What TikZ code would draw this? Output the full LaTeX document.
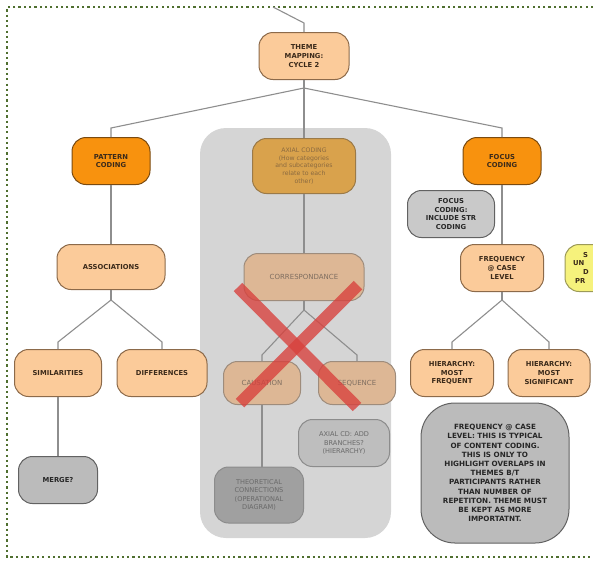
\documentclass[tikz,border=0pt]{standalone}
\usepackage{fontspec}
\setmainfont{DejaVu Sans}
\definecolor{peachfill}{HTML}{FBCB9A}
\definecolor{peachline}{HTML}{8C6A4A}
\definecolor{darktxt}{HTML}{3B2A1A}
\definecolor{orangefill}{HTML}{F8920E}
\definecolor{orangeline}{HTML}{7A4A10}
\definecolor{axialfill}{HTML}{D9A24C}
\definecolor{axialline}{HTML}{9B7A48}
\definecolor{axialtxt}{HTML}{8B6A40}
\definecolor{corrfill}{HTML}{DDB795}
\definecolor{corrline}{HTML}{9E8C7C}
\definecolor{corrtxt}{HTML}{7F6E60}
\definecolor{panelgray}{HTML}{D5D5D5}
\definecolor{greyfill}{HTML}{BBBBBB}
\definecolor{greyline}{HTML}{626262}
\definecolor{fadefill}{HTML}{B2B2B2}
\definecolor{fadeline}{HTML}{8C8C8C}
\definecolor{fadetxt}{HTML}{696969}
\definecolor{yellowfill}{HTML}{F6F27C}
\definecolor{yellowline}{HTML}{9C9A58}
\definecolor{linkgray}{HTML}{8E8E8E}
\definecolor{framegreen}{HTML}{4F6F2F}
\definecolor{crossred}{HTML}{D8403C}
\begin{document}
\begin{tikzpicture}[x=1pt,y=-1pt,
  box/.style={draw, rounded corners=14pt, line width=1pt, align=center,
    inner sep=1pt, font=\fontsize{6.8}{8.6}\selectfont\bfseries, text=darktxt},
  peach/.style={box, fill=peachfill, draw=peachline},
  orange/.style={box, fill=orangefill, draw=orangeline},
  grey/.style={box, fill=greyfill, draw=greyline, text=black!85},
  faded/.style={box, fill=fadefill, draw=fadeline, text=fadetxt,
    font=\fontsize{6.6}{8.6}\selectfont},
  inpanel/.style={box, fill=corrfill, draw=corrline, text=corrtxt,
    font=\fontsize{7}{8.6}\selectfont},
  link/.style={draw=linkgray, line width=1.1pt},
  frame/.style={draw=framegreen, line width=2.2pt, dash pattern=on 2.2pt off 3.1pt},
  crossbar/.style={draw=crossred, line width=12pt, opacity=0.78}]

\useasboundingbox (0,0) rectangle (593,560);
\clip (0,0) rectangle (593,560);

% dotted frame
\draw[frame] (593,7) -- (7,7) -- (7,557) -- (593,557);

% grey panel behind the axial coding branch
\fill[panelgray, rounded corners=26pt] (200,128) rectangle (391,538);

% nodes
\node[peach, minimum width=90pt, minimum height=47pt] (theme) at (304,56)
  {THEME\\MAPPING:\\CYCLE 2};

\node[orange, minimum width=78pt, minimum height=47pt] (pattern) at (111,161)
  {PATTERN\\CODING};
\node[box, fill=axialfill, draw=axialline, text=axialtxt,
  font=\fontsize{6.2}{7.7}\selectfont, minimum width=103pt, minimum height=55pt]
  (axial) at (304,166)
  {AXIAL CODING\\(How categories\\and subcategories\\relate to each\\other)};
\node[orange, minimum width=78pt, minimum height=47pt] (focus) at (502,161)
  {FOCUS\\CODING};
\node[grey, fill=greyfill!80!white, minimum width=87pt, minimum height=47pt]
  (focusnote) at (451,214) {FOCUS\\CODING:\\INCLUDE STR\\CODING};

\node[peach, minimum width=108pt, minimum height=45pt] (assoc) at (111,267)
  {ASSOCIATIONS};
\node[inpanel, minimum width=120pt, minimum height=47pt] (corr) at (304,277)
  {CORRESPONDANCE};
\node[peach, minimum width=83pt, minimum height=47pt] (freq) at (502,268)
  {FREQUENCY\\@ CASE\\LEVEL};

% partly visible node at the right edge
\node[box, fill=yellowfill, draw=yellowline, minimum width=84pt,
  minimum height=47pt] (side) at (607,268) {};
\node[anchor=north west, align=left, inner sep=0pt, text=darktxt,
  font=\fontsize{6.8}{8.6}\selectfont\bfseries] (sidetext) at (573,252)
  {\hspace{10pt}S\\UN\\\hspace{10pt}D\\\hspace{2pt}PR};

\node[peach, minimum width=87pt, minimum height=47pt] (sim) at (58,373)
  {SIMILARITIES};
\node[peach, minimum width=90pt, minimum height=47pt] (diff) at (162,373)
  {DIFFERENCES};
\node[inpanel, minimum width=77pt, minimum height=43pt] (caus) at (262,383)
  {CAUSATION};
\node[inpanel, minimum width=77pt, minimum height=43pt] (seq) at (357,383)
  {SEQUENCE};
\node[peach, minimum width=83pt, minimum height=47pt] (hfreq) at (452,373)
  {HIERARCHY:\\MOST\\FREQUENT};
\node[peach, minimum width=82pt, minimum height=47pt] (hsig) at (549,373)
  {HIERARCHY:\\MOST\\SIGNIFICANT};

\node[grey, minimum width=79pt, minimum height=47pt] (merge) at (58,480)
  {MERGE?};
\node[faded, fill=fadefill!85!white, minimum width=91pt, minimum height=47pt]
  (axialcd) at (344,443) {AXIAL CD: ADD\\BRANCHES?\\(HIERARCHY)};
\node[faded, fill=fadefill!90!black, minimum width=89pt, minimum height=56pt]
  (theo) at (259,495) {THEORETICAL\\CONNECTIONS\\(OPERATIONAL\\DIAGRAM)};

\node[grey, rounded corners=34pt, minimum width=148pt, minimum height=140pt,
  font=\fontsize{7.2}{9.2}\selectfont\bfseries] (note) at (495,473)
  {FREQUENCY @ CASE\\LEVEL: THIS IS TYPICAL\\OF CONTENT CODING.\\THIS IS ONLY TO\\
   HIGHLIGHT OVERLAPS IN\\THEMES B/T\\PARTICIPANTS RATHER\\THAN NUMBER OF\\
   REPETITON. THEME MUST\\BE KEPT AS MORE\\IMPORTATNT.};

% bend points of the tree connectors
\coordinate (in0) at (273,7);
\coordinate (in1) at (304,23);
\coordinate (t0) at (304,88);
\coordinate (tl) at (111,128);
\coordinate (tr) at (502,128);
\coordinate (a0) at (111,300);
\coordinate (al) at (58,342);
\coordinate (ar) at (162,342);
\coordinate (c0) at (304,310);
\coordinate (cl) at (262,355);
\coordinate (cr) at (357,355);
\coordinate (f0) at (502,300);
\coordinate (fl) at (452,342);
\coordinate (fr) at (549,342);

% connectors
\draw[link] (in0) -- (in1) -- (theme.north);
\draw[link] (theme.south) -- (t0);
\draw[link] (t0) -- (tl) -- (pattern.north);
\draw[link] (t0) -- (axial.north);
\draw[link] (t0) -- (tr) -- (focus.north);
\draw[link] (pattern.south) -- (assoc.north);
\draw[link] (axial.south) -- (corr.north);
\draw[link] (focus.south) -- (freq.north);
\draw[link] (assoc.south) -- (a0);
\draw[link] (a0) -- (al) -- (sim.north);
\draw[link] (a0) -- (ar) -- (diff.north);
\draw[link] (corr.south) -- (c0);
\draw[link] (c0) -- (cl) -- (caus.north);
\draw[link] (c0) -- (cr) -- (seq.north);
\draw[link] (freq.south) -- (f0);
\draw[link] (f0) -- (fl) -- (hfreq.north);
\draw[link] (f0) -- (fr) -- (hsig.north);
\draw[link] (sim.south) -- (merge.north);
\draw[link] (caus.south) -- (caus.south |- theo.north);

% red cross over the correspondance branch
\draw[crossbar] (238,287) -- (357,407);
\draw[crossbar] (358,285) -- (240,403);

\end{tikzpicture}
\end{document}
